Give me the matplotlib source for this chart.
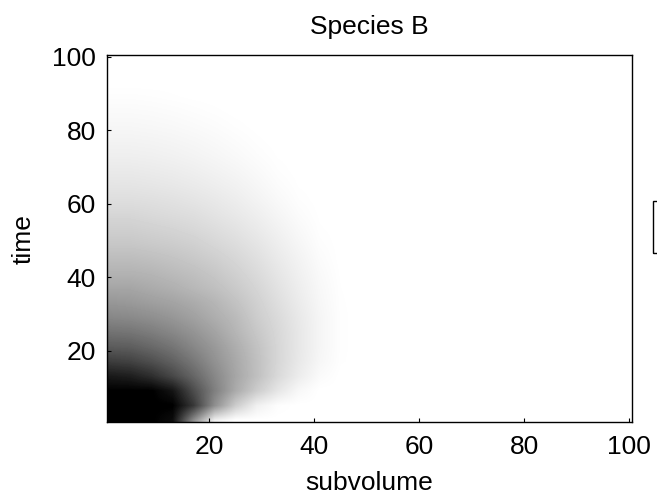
"""Species B concentration over subvolume and time (grey image plot)."""

import numpy as np
import matplotlib
matplotlib.use("Agg")
import matplotlib.pyplot as plt
from matplotlib.patches import Rectangle

plt.rcParams["font.family"] = ["Liberation Sans", "DejaVu Sans"]

# sample grid: subvolume every 4, time every 4
subvolume = np.arange(1, 101, 4)          # 1, 5, ..., 97
time = np.arange(1, 101, 4)               # 1, 5, ..., 97

# concentration (0 = white, 1 = black) for subvolume 1..49; beyond is zero
conc_t01 = [1.00, 1.00, 1.00, 0.95, 0.45, 0.06, 0, 0, 0, 0, 0, 0, 0]
conc_t05 = [1.00, 1.00, 1.00, 1.00, 0.78, 0.44, 0.20, 0.06, 0.01, 0, 0, 0, 0]
conc_t09 = [1.00, 1.00, 1.00, 0.92, 0.70, 0.50, 0.33, 0.20, 0.10, 0.03, 0, 0, 0]
conc_t13 = [0.90, 0.88, 0.82, 0.72, 0.60, 0.47, 0.35, 0.25, 0.15, 0.075, 0.02, 0, 0]
conc_t17 = [0.76, 0.74, 0.69, 0.62, 0.53, 0.43, 0.34, 0.25, 0.16, 0.09, 0.035, 0.005, 0]
conc_t21 = [0.64, 0.63, 0.59, 0.54, 0.47, 0.40, 0.32, 0.24, 0.16, 0.095, 0.04, 0.006, 0]
conc_t25 = [0.55, 0.54, 0.51, 0.47, 0.42, 0.36, 0.29, 0.22, 0.155, 0.095, 0.04, 0.006, 0]
conc_t29 = [0.47, 0.46, 0.44, 0.41, 0.37, 0.32, 0.27, 0.20, 0.145, 0.09, 0.04, 0.006, 0]
conc_t33 = [0.41, 0.40, 0.38, 0.36, 0.33, 0.29, 0.24, 0.185, 0.13, 0.08, 0.035, 0.005, 0]
conc_t37 = [0.35, 0.35, 0.33, 0.31, 0.28, 0.25, 0.21, 0.165, 0.115, 0.07, 0.03, 0.004, 0]
conc_t41 = [0.30, 0.30, 0.29, 0.27, 0.25, 0.22, 0.185, 0.145, 0.10, 0.06, 0.024, 0.002, 0]
conc_t45 = [0.26, 0.26, 0.25, 0.235, 0.215, 0.19, 0.16, 0.125, 0.085, 0.05, 0.017, 0, 0]
conc_t49 = [0.22, 0.22, 0.21, 0.20, 0.185, 0.16, 0.135, 0.105, 0.07, 0.038, 0.01, 0, 0]
conc_t53 = [0.19, 0.19, 0.18, 0.17, 0.155, 0.135, 0.112, 0.085, 0.055, 0.027, 0.005, 0, 0]
conc_t57 = [0.16, 0.16, 0.15, 0.14, 0.13, 0.11, 0.09, 0.067, 0.04, 0.016, 0.002, 0, 0]
conc_t61 = [0.13, 0.13, 0.125, 0.117, 0.105, 0.09, 0.072, 0.05, 0.027, 0.008, 0, 0, 0]
conc_t65 = [0.105, 0.105, 0.10, 0.093, 0.083, 0.07, 0.055, 0.036, 0.016, 0.003, 0, 0, 0]
conc_t69 = [0.085, 0.085, 0.08, 0.074, 0.065, 0.053, 0.04, 0.024, 0.008, 0, 0, 0, 0]
conc_t73 = [0.065, 0.065, 0.062, 0.056, 0.048, 0.038, 0.026, 0.013, 0.003, 0, 0, 0, 0]
conc_t77 = [0.05, 0.05, 0.047, 0.042, 0.035, 0.026, 0.016, 0.006, 0, 0, 0, 0, 0]
conc_t81 = [0.035, 0.035, 0.032, 0.028, 0.022, 0.015, 0.007, 0.001, 0, 0, 0, 0, 0]
conc_t85 = [0.022, 0.022, 0.02, 0.016, 0.011, 0.006, 0.001, 0, 0, 0, 0, 0, 0]
conc_t89 = [0.01, 0.01, 0.008, 0.005, 0.002, 0, 0, 0, 0, 0, 0, 0, 0]
conc_t93 = [0, 0, 0, 0, 0, 0, 0, 0, 0, 0, 0, 0, 0]
conc_t97 = [0, 0, 0, 0, 0, 0, 0, 0, 0, 0, 0, 0, 0]

rows = [conc_t01, conc_t05, conc_t09, conc_t13, conc_t17, conc_t21, conc_t25,
        conc_t29, conc_t33, conc_t37, conc_t41, conc_t45, conc_t49, conc_t53,
        conc_t57, conc_t61, conc_t65, conc_t69, conc_t73, conc_t77, conc_t81,
        conc_t85, conc_t89, conc_t93, conc_t97]

conc = np.array(rows, dtype=float)
conc = np.pad(conc, ((0, 0), (0, len(subvolume) - conc.shape[1])))

xticks = [20, 40, 60, 80, 100]
yticks = [20, 40, 60, 80, 100]

fig = plt.figure(figsize=(6.57, 4.96), dpi=100)
ax = fig.add_axes([0.163, 0.149, 0.799, 0.740])

step = subvolume[1] - subvolume[0]
ax.imshow(conc, cmap="gray_r", vmin=0, vmax=1, origin="lower",
          interpolation="bilinear", aspect="auto",
          extent=[subvolume[0] - step / 2, subvolume[-1] + step / 2,
                  time[0] - step / 2, time[-1] + step / 2])

ax.set_xlim(0.5, 100.5)
ax.set_ylim(0.5, 100.5)
ax.set_xticks(xticks)
ax.set_yticks(yticks)
ax.tick_params(direction="in", length=3, labelsize=19)
ax.tick_params(axis="x", pad=9)
ax.tick_params(axis="y", pad=8)
for sp in ax.spines.values():
    sp.set_linewidth(1.0)

ax.set_xlabel("subvolume", fontsize=19, labelpad=9)
ax.set_ylabel("time", fontsize=19, labelpad=12)
ax.set_title("Species B", fontsize=19, pad=15)

# edge of the cut-off box at the right border
fig.patches.append(Rectangle((653 / 657, 1 - 253 / 496), 0.05, 52 / 496,
                             transform=fig.transFigure, fill=False,
                             edgecolor="black", lw=1.0, clip_on=False))

fig.savefig("out.png", dpi=100)
